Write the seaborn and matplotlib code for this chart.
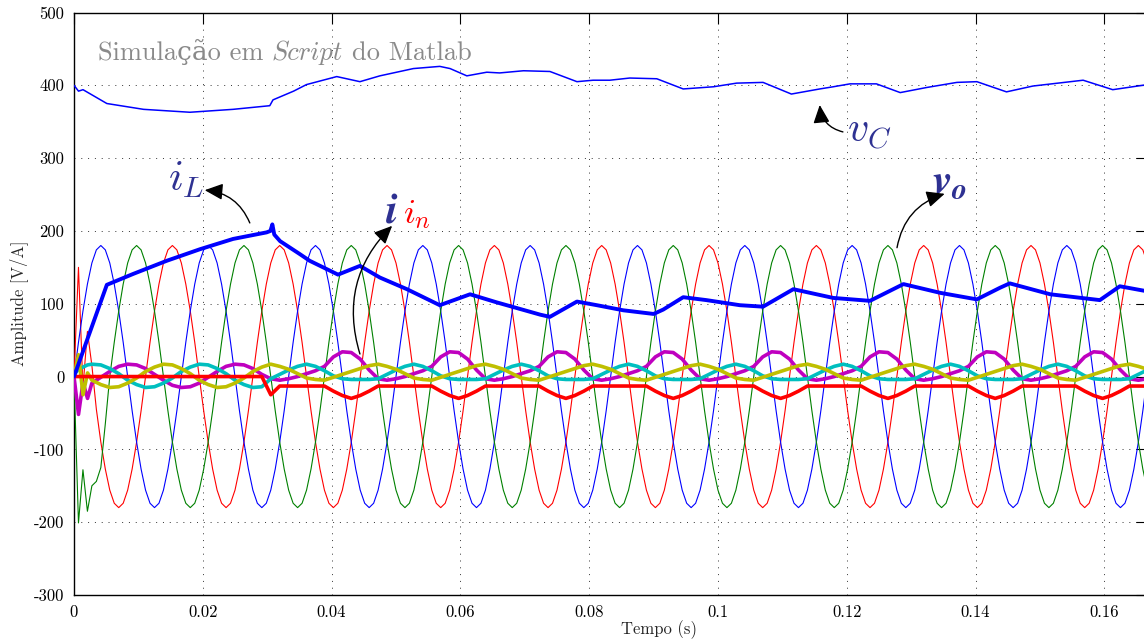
import numpy as np
import matplotlib
matplotlib.use("Agg")
import matplotlib.pyplot as plt
import seaborn as sns

# ------------------------------------------------------------------ data
# three-phase output voltages (thin lines), sampled every 1/1440 s
t_phase = np.arange(241) / 1440.0
v_blue = [
    0, 47, 90, 127, 156, 174, 180, 174, 156, 127, 90, 47, 0, -47, -90, -127, -156, -174, -180, -174, -156, -127, -90, -47,
    0, 47, 90, 127, 156, 174, 180, 174, 156, 127, 90, 47, 0, -47, -90, -127, -156, -174, -180, -174, -156, -127, -90, -47,
    0, 47, 90, 127, 156, 174, 180, 174, 156, 127, 90, 47, 0, -47, -90, -127, -156, -174, -180, -174, -156, -127, -90, -47,
    0, 47, 90, 127, 156, 174, 180, 174, 156, 127, 90, 47, 0, -47, -90, -127, -156, -174, -180, -174, -156, -127, -90, -47,
    0, 47, 90, 127, 156, 174, 180, 174, 156, 127, 90, 47, 0, -47, -90, -127, -156, -174, -180, -174, -156, -127, -90, -47,
    0, 47, 90, 127, 156, 174, 180, 174, 156, 127, 90, 47, 0, -47, -90, -127, -156, -174, -180, -174, -156, -127, -90, -47,
    0, 47, 90, 127, 156, 174, 180, 174, 156, 127, 90, 47, 0, -47, -90, -127, -156, -174, -180, -174, -156, -127, -90, -47,
    0, 47, 90, 127, 156, 174, 180, 174, 156, 127, 90, 47, 0, -47, -90, -127, -156, -174, -180, -174, -156, -127, -90, -47,
    0, 47, 90, 127, 156, 174, 180, 174, 156, 127, 90, 47, 0, -47, -90, -127, -156, -174, -180, -174, -156, -127, -90, -47,
    0, 47, 90, 127, 156, 174, 180, 174, 156, 127, 90, 47, 0, -47, -90, -127, -156, -174, -180, -174, -156, -127, -90, -47,
    0]
v_green = [
    0, -201, -128, -185, -150, -144, -125, -65, 0, 47, 90, 127, 156, 174, 180, 174, 156, 127, 90, 47, 0, -47, -90, -127,
    -156, -174, -180, -174, -156, -127, -90, -47, 0, 47, 90, 127, 156, 174, 180, 174, 156, 127, 90, 47, 0, -47, -90, -127,
    -156, -174, -180, -174, -156, -127, -90, -47, 0, 47, 90, 127, 156, 174, 180, 174, 156, 127, 90, 47, 0, -47, -90, -127,
    -156, -174, -180, -174, -156, -127, -90, -47, 0, 47, 90, 127, 156, 174, 180, 174, 156, 127, 90, 47, 0, -47, -90, -127,
    -156, -174, -180, -174, -156, -127, -90, -47, 0, 47, 90, 127, 156, 174, 180, 174, 156, 127, 90, 47, 0, -47, -90, -127,
    -156, -174, -180, -174, -156, -127, -90, -47, 0, 47, 90, 127, 156, 174, 180, 174, 156, 127, 90, 47, 0, -47, -90, -127,
    -156, -174, -180, -174, -156, -127, -90, -47, 0, 47, 90, 127, 156, 174, 180, 174, 156, 127, 90, 47, 0, -47, -90, -127,
    -156, -174, -180, -174, -156, -127, -90, -47, 0, 47, 90, 127, 156, 174, 180, 174, 156, 127, 90, 47, 0, -47, -90, -127,
    -156, -174, -180, -174, -156, -127, -90, -47, 0, 47, 90, 127, 156, 174, 180, 174, 156, 127, 90, 47, 0, -47, -90, -127,
    -156, -174, -180, -174, -156, -127, -90, -47, 0, 47, 90, 127, 156, 174, 180, 174, 156, 127, 90, 47, 0, -47, -90, -127,
    -156]
v_red = [
    0, 150, -15, 62, 15, -45, -90, -127, -156, -174, -180, -174, -156, -127, -90, -47, 0, 47, 90, 127, 156, 174, 180, 174,
    156, 127, 90, 47, 0, -47, -90, -127, -156, -174, -180, -174, -156, -127, -90, -47, 0, 47, 90, 127, 156, 174, 180, 174,
    156, 127, 90, 47, 0, -47, -90, -127, -156, -174, -180, -174, -156, -127, -90, -47, 0, 47, 90, 127, 156, 174, 180, 174,
    156, 127, 90, 47, 0, -47, -90, -127, -156, -174, -180, -174, -156, -127, -90, -47, 0, 47, 90, 127, 156, 174, 180, 174,
    156, 127, 90, 47, 0, -47, -90, -127, -156, -174, -180, -174, -156, -127, -90, -47, 0, 47, 90, 127, 156, 174, 180, 174,
    156, 127, 90, 47, 0, -47, -90, -127, -156, -174, -180, -174, -156, -127, -90, -47, 0, 47, 90, 127, 156, 174, 180, 174,
    156, 127, 90, 47, 0, -47, -90, -127, -156, -174, -180, -174, -156, -127, -90, -47, 0, 47, 90, 127, 156, 174, 180, 174,
    156, 127, 90, 47, 0, -47, -90, -127, -156, -174, -180, -174, -156, -127, -90, -47, 0, 47, 90, 127, 156, 174, 180, 174,
    156, 127, 90, 47, 0, -47, -90, -127, -156, -174, -180, -174, -156, -127, -90, -47, 0, 47, 90, 127, 156, 174, 180, 174,
    156, 127, 90, 47, 0, -47, -90, -127, -156, -174, -180, -174, -156, -127, -90, -47, 0, 47, 90, 127, 156, 174, 180, 174,
    156]

# small load / neutral currents (thick lines)
t_small = np.concatenate([[0.0, 0.0007, 0.0014, 0.0021], np.arange(2, 121) / 720.0])
i_cyan = [
    3, 10, 13, 16,
    17, 16, 11, 4, -5, -11, -15, -14, -9, -2, 7, 13, 17, 16, 11, 4, -5, -11, -15, -14,
    -3, 3,
    9, 14, 17, 14, 8, 1, -3, -4, -4, -4, -3, 3,
    9, 14, 17, 14, 8, 1, -3, -4, -4, -4, -3, 3,
    9, 14, 17, 14, 8, 1, -3, -4, -4, -4, -3, 3,
    9, 14, 17, 14, 8, 1, -3, -4, -4, -4, -3, 3,
    9, 14, 17, 14, 8, 1, -3, -4, -4, -4, -3, 3,
    9, 14, 17, 14, 8, 1, -3, -4, -4, -4, -3, 3,
    9, 14, 17, 14, 8, 1, -3, -4, -4, -4, -3, 3,
    9, 14, 17, 14, 8, 1, -3, -4, -4, -4, -3, 3,
    9]
i_magenta = [
    0, -52, -8, -30,
    -9, -1, 7, 14, 17, 16, 11, 3, -5, -12, -15, -14, -9, -1, 7, 14, 17, 16, 11, 3,
    -3, -5,
    -3, 0, 4, 8, 14, 27, 34, 33, 24, 9, -3, -5,
    -3, 0, 4, 8, 14, 27, 34, 33, 24, 9, -3, -5,
    -3, 0, 4, 8, 14, 27, 34, 33, 24, 9, -3, -5,
    -3, 0, 4, 8, 14, 27, 34, 33, 24, 9, -3, -5,
    -3, 0, 4, 8, 14, 27, 34, 33, 24, 9, -3, -5,
    -3, 0, 4, 8, 14, 27, 34, 33, 24, 9, -3, -5,
    -3, 0, 4, 8, 14, 27, 34, 33, 24, 9, -3, -5,
    -3, 0, 4, 8, 14, 27, 34, 33, 24, 9, -3, -5,
    -3]
i_yellow = [
    0, 30, -25, 5,
    -5, -11, -15, -14, -9, -2, 7, 13, 17, 16, 11, 4, -5, -11, -15, -14, -9, -2, 7, 13,
    17, 14,
    10, 4, -2, -4, -5, -1, 3, 7, 11, 15, 17, 14,
    10, 4, -2, -4, -5, -1, 3, 7, 11, 15, 17, 14,
    10, 4, -2, -4, -5, -1, 3, 7, 11, 15, 17, 14,
    10, 4, -2, -4, -5, -1, 3, 7, 11, 15, 17, 14,
    10, 4, -2, -4, -5, -1, 3, 7, 11, 15, 17, 14,
    10, 4, -2, -4, -5, -1, 3, 7, 11, 15, 17, 14,
    10, 4, -2, -4, -5, -1, 3, 7, 11, 15, 17, 14,
    10, 4, -2, -4, -5, -1, 3, 7, 11, 15, 17, 14,
    10]
i_n = [
    0, 0, 0, 0,
    0, 0, 0, 0, 0, 0, 0, 0, 0, 0, 0, 0, 0, 0, 0, 0, 0, 0, 0, 0,
    -25, -13,
    -13, -13, -13, -13, -13, -20, -26, -30, -26, -20, -13, -13,
    -13, -13, -13, -13, -13, -20, -26, -30, -26, -20, -13, -13,
    -13, -13, -13, -13, -13, -20, -26, -30, -26, -20, -13, -13,
    -13, -13, -13, -13, -13, -20, -26, -30, -26, -20, -13, -13,
    -13, -13, -13, -13, -13, -20, -26, -30, -26, -20, -13, -13,
    -13, -13, -13, -13, -13, -20, -26, -30, -26, -20, -13, -13,
    -13, -13, -13, -13, -13, -20, -26, -30, -26, -20, -13, -13,
    -13, -13, -13, -13, -13, -20, -26, -30, -26, -20, -13, -13,
    -13]

# inductor current i_L (thick blue)
t_iL = [0, 0.0051, 0.0092, 0.0144, 0.0196, 0.0247, 0.0299, 0.0305, 0.0308, 0.0311, 0.0320,
        0.0351, 0.0366, 0.0410, 0.0444, 0.0475, 0.0517, 0.0568, 0.0615, 0.0656, 0.0724,
        0.0739, 0.0781, 0.0812, 0.0853, 0.0900, 0.0915, 0.0946, 0.0982, 0.1034, 0.1070,
        0.1117, 0.1179, 0.1236, 0.1288, 0.1345, 0.1402, 0.1438, 0.1453, 0.1516, 0.1593,
        0.1624, 0.1667]
i_L = [0, 126, 141, 159, 175, 189, 198, 200, 209, 195, 186,
       168, 159, 140, 152, 136, 120, 98, 113, 102, 85,
       82, 103, 98, 91, 86, 92, 109, 105, 98, 96,
       120, 108, 104, 127, 115, 106, 122, 128, 113, 105,
       124, 117]

# DC-link voltage v_C (thin blue, top)
t_vC = [0, 0.0007, 0.0014, 0.0051, 0.0108, 0.0180, 0.0247, 0.0304, 0.0309, 0.0341, 0.0361,
        0.0408, 0.0444, 0.0475, 0.0527, 0.0568, 0.0584, 0.0610, 0.0641, 0.0661, 0.0698,
        0.0739, 0.0781, 0.0806, 0.0832, 0.0863, 0.0905, 0.0946, 0.0993, 0.1029, 0.1070,
        0.1114, 0.1158, 0.1179, 0.1205, 0.1246, 0.1283, 0.1324, 0.1371, 0.1402, 0.1448,
        0.1489, 0.1567, 0.1613, 0.1667]
v_C = [400, 392, 394, 375, 367, 363, 367, 372, 380, 392, 401,
       412, 405, 413, 423, 426, 423, 413, 418, 417, 420,
       419, 405, 407, 407, 410, 409, 395, 398, 403, 404,
       388, 395, 398, 402, 402, 390, 397, 404, 405, 391,
       399, 407, 394, 401]

x_ticks = [0, 0.02, 0.04, 0.06, 0.08, 0.10, 0.12, 0.14, 0.16]
x_tick_labels = ["0", "0.02", "0.04", "0.06", "0.08", "0.1", "0.12", "0.14", "0.16"]
y_ticks = [-300, -200, -100, 0, 100, 200, 300, 400, 500]
y_tick_labels = ["-300", "-200", "-100", "0", "100", "200", "300", "400", "500"]

# ------------------------------------------------------------------ style
sns.set_theme(style="white")
plt.rcParams["font.family"] = ["cmr10", "DejaVu Serif"]
plt.rcParams["mathtext.fontset"] = "cm"
plt.rcParams["axes.unicode_minus"] = False

C_BLUE, C_GREEN, C_RED = (0, 0, 1), (0, 0.5, 0), (1, 0, 0)
C_CYAN, C_MAG, C_YEL = (0, 0.75, 0.75), (0.75, 0, 0.75), (0.75, 0.75, 0)
LAB = "#2E3192"

fig = plt.figure(figsize=(11.44, 6.42), dpi=100)
AX_W = 1073.3
ax = fig.add_axes([74 / 1144, 47 / 642, AX_W / 1144, 582.5 / 642])

def line(x, y, color, lw, z):
    sns.lineplot(x=np.asarray(x, float), y=np.asarray(y, float), ax=ax, color=color,
                 linewidth=lw, sort=False, estimator=None, zorder=z)

line(t_phase, v_red, C_RED, 0.8, 3)
line(t_phase, v_blue, C_BLUE, 0.8, 3)
line(t_phase, v_green, C_GREEN, 0.8, 3)
line(t_vC, v_C, C_BLUE, 1.1, 4)
line(t_small, i_magenta, C_MAG, 2.6, 5)
line(t_small, i_cyan, C_CYAN, 2.6, 5)
line(t_small, i_yellow, C_YEL, 2.6, 5)
line(t_small, i_n, C_RED, 2.6, 6)
line(t_iL, i_L, C_BLUE, 2.8, 7)

ax.set_xlim(0, 1 / 6)
ax.set_ylim(-300, 500)
ax.set_xticks(x_ticks)
ax.set_xticklabels(x_tick_labels)
ax.set_yticks(y_ticks)
ax.set_yticklabels(y_tick_labels)
ax.grid(True, color="#333333", linestyle=(0, (1, 6)), linewidth=0.7)
ax.set_axisbelow(True)
ax.tick_params(direction="in", length=8, width=0.8, top=True, right=True,
               labelsize=12, colors="black", pad=7)
for s in ax.spines.values():
    s.set_color("black")
    s.set_linewidth(1.0)
ax.set_xlabel("Tempo (s)", fontsize=12)
ax.xaxis.set_label_coords((659 - 74) / AX_W, -0.044)
ax.set_ylabel("Amplitude [V/A]", fontsize=12, labelpad=4)

# ---- title text in three pieces (regular / italic / regular)
fig.canvas.draw()
rend = fig.canvas.get_renderer()
inv = ax.transData.inverted()
TS = 19
t1 = ax.text(0.0037, 435, "Simulação em", color="#8a8a8a", fontsize=TS,
             family=["cmr10", "DejaVu Serif"], ha="left", va="baseline", zorder=9)
bb = t1.get_window_extent(rend)
gap = TS * 0.333 * 100 / 72
x2 = inv.transform((bb.x1 + gap, 0))[0]
t2 = ax.text(x2, 435, "Script", color="#8a8a8a", fontsize=TS, family="cmmi10",
             ha="left", va="baseline", zorder=9)
bb2 = t2.get_window_extent(rend)
x3 = inv.transform((bb2.x1 + gap, 0))[0]
ax.text(x3, 435, "do Matlab", color="#8a8a8a", fontsize=TS,
        family=["cmr10", "DejaVu Serif"], ha="left", va="baseline", zorder=9)

# ---- curve labels
ax.text(0.0146, 255, r"$i_L$", color=LAB, fontsize=31, ha="left", va="baseline", zorder=9)
ax.text(0.1200, 321, r"$v_C$", color=LAB, fontsize=30, ha="left", va="baseline", zorder=9)
ax.text(0.1332, 252, r"$\mathbfit{v}_{\mathbfit{o}}$", color=LAB, fontsize=31, ha="left",
        va="baseline", math_fontfamily="stix", zorder=9)
ax.text(0.0483, 211, r"$\mathbfit{i}$", color=LAB, fontsize=31, ha="left",
        va="baseline", math_fontfamily="stix", zorder=9)
ax.text(0.0511, 211, r"$i_n$", color="red", fontsize=25, ha="left", va="baseline", zorder=9)

arrow_kw = dict(arrowstyle="-|>,head_length=0.55,head_width=0.25", color="black",
                lw=1.0, mutation_scale=20, shrinkA=0, shrinkB=0)
ax.annotate("", xy=(0.0203, 256), xytext=(0.0273, 211),
            arrowprops=dict(connectionstyle="arc3,rad=0.3", **arrow_kw), zorder=9)
ax.annotate("", xy=(0.0494, 207), xytext=(0.0444, 31),
            arrowprops=dict(connectionstyle="arc3,rad=-0.3", **arrow_kw), zorder=9)
ax.annotate("", xy=(0.1352, 251), xytext=(0.1278, 177),
            arrowprops=dict(connectionstyle="arc3,rad=-0.3", **arrow_kw), zorder=9)
ax.annotate("", xy=(0.1158, 373), xytext=(0.1194, 336),
            arrowprops=dict(connectionstyle="arc3,rad=-0.35", **arrow_kw), zorder=9)

fig.savefig("out.png", dpi=100)
